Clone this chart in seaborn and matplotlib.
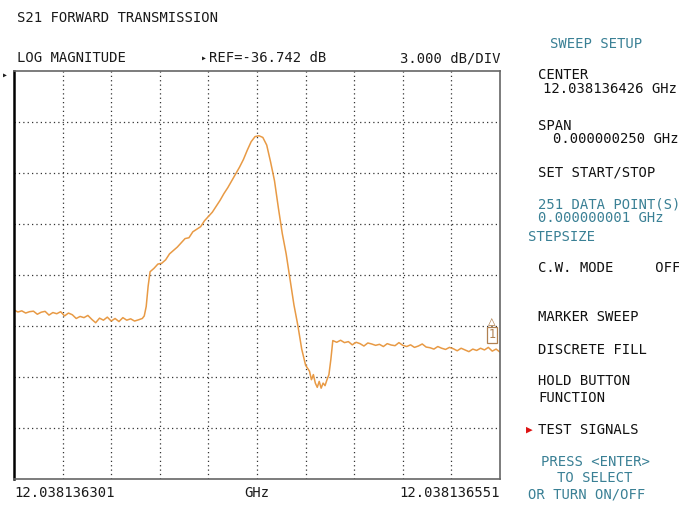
import matplotlib
matplotlib.use("Agg")
import matplotlib.pyplot as plt
import seaborn as sns
import pandas as pd

# ---- data ----
offset_hz = [0, 2, 4, 6, 8, 10, 12, 14, 16, 18, 20, 22, 24, 26, 28, 30, 32, 34, 36, 38,
             40, 42, 44, 46, 48, 50, 52, 54, 56, 58, 60, 62, 64, 66, 67, 68, 69, 70, 72, 74,
             76, 78, 80, 82, 84, 86, 88, 90, 92, 94, 96, 98, 100, 102, 104, 106, 108, 110, 112, 114,
             116, 118, 120, 122, 124, 126, 128, 130, 132, 134, 136, 138, 140, 142, 144, 146, 148, 150, 152, 153,
             154, 155, 156, 157, 158, 159, 160, 161, 162, 163, 164, 166, 168, 170, 172, 174, 176, 178, 180, 182,
             184, 186, 188, 190, 192, 194, 196, 198, 200, 202, 204, 206, 208, 210, 212, 214, 216, 218, 220, 222,
             224, 226, 228, 230, 232, 234, 236, 238, 240, 242, 244, 246, 248, 250]
s21_db = [-50.80, -50.92, -50.85, -50.98, -50.90, -50.87, -51.05, -50.93, -50.88, -51.10,
          -50.95, -51.02, -50.90, -51.15, -50.98, -51.08, -51.30, -51.18, -51.25, -51.12,
          -51.35, -51.55, -51.28, -51.40, -51.22, -51.45, -51.30, -51.48, -51.25, -51.40,
          -51.32, -51.45, -51.38, -51.30, -51.15, -50.60, -49.40, -48.55, -48.35, -48.10,
          -48.05, -47.85, -47.50, -47.30, -47.10, -46.85, -46.60, -46.55, -46.20, -46.05,
          -45.90, -45.55, -45.30, -45.05, -44.70, -44.35, -43.95, -43.60, -43.20, -42.80,
          -42.40, -41.95, -41.40, -40.90, -40.60, -40.55, -40.65, -41.10, -42.10, -43.20,
          -44.80, -46.30, -47.50, -49.00, -50.50, -51.70, -53.10, -54.05, -54.40, -54.90,
          -54.60, -55.10, -55.35, -55.00, -55.40, -55.10, -55.25, -54.90, -54.60, -53.70,
          -52.60, -52.70, -52.58, -52.72, -52.66, -52.85, -52.70, -52.78, -52.92, -52.74,
          -52.80, -52.88, -52.82, -52.95, -52.78, -52.86, -52.90, -52.72, -52.88, -52.95,
          -52.85, -53.00, -52.92, -52.80, -52.98, -53.02, -53.10, -52.95, -53.05, -53.12,
          -53.00, -53.08, -53.20, -53.05, -53.15, -53.25, -53.10, -53.18, -53.05, -53.15,
          -53.00, -53.22, -53.10, -53.28]

start_label = "12.038136301"
stop_label = "12.038136551"
ref_db = -36.742
db_per_div = 3.0
n_ydiv = 8
n_xdiv = 10
span_hz = 250

menu_items = [
    ("SWEEP SETUP", 550, 44, "teal"),
    ("CENTER", 538, 75, "k"),
    ("12.038136426 GHz", 543, 89, "k"),
    ("SPAN", 538, 126, "k"),
    ("0.000000250 GHz", 553, 139, "k"),
    ("SET START/STOP", 538, 172, "k"),
    ("251 DATA POINT(S)", 538, 205, "teal"),
    ("0.000000001 GHz", 538, 218, "teal"),
    ("STEPSIZE", 528, 237, "teal"),
    ("C.W. MODE     OFF", 538, 268, "k"),
    ("MARKER SWEEP", 538, 317, "k"),
    ("DISCRETE FILL", 538, 350, "k"),
    ("HOLD BUTTON", 538, 381, "k"),
    ("FUNCTION", 538, 398, "k"),
    ("TEST SIGNALS", 538, 430, "k"),
    ("PRESS <ENTER>", 541, 462, "teal"),
    ("TO SELECT", 557, 478, "teal"),
    ("OR TURN ON/OFF", 528, 494, "teal"),
]

# ---- figure ----
sns.set_theme(style="white")
plt.rcParams['font.family'] = ['DejaVu Sans Mono', 'DejaVu Sans']
W, H = 679, 505
fig = plt.figure(figsize=(W / 100, H / 100), dpi=100)
L, R, T, B = 14, 500, 71, 479
ax = fig.add_axes([L / W, 1 - B / H, (R - L) / W, (B - T) / H])

df = pd.DataFrame({"offset": offset_hz, "db": s21_db})
sns.lineplot(data=df, x="offset", y="db", ax=ax, color="#e89a45", linewidth=1.1)

ymax = ref_db
ymin = ref_db - n_ydiv * db_per_div
ax.set_xlim(0, span_hz)
ax.set_ylim(ymin, ymax)
ax.set_xticks([span_hz / n_xdiv * i for i in range(1, n_xdiv)])
ax.set_yticks([ymin + db_per_div * i for i in range(1, n_ydiv)])
ax.set_xticklabels([])
ax.set_yticklabels([])
ax.tick_params(length=0)
ax.grid(True, linestyle=(0, (1, 2.5)), color="#333333", linewidth=0.9)
ax.set_xlabel("")
ax.set_ylabel("")
for side in ["top", "right", "bottom"]:
    ax.spines[side].set_color("#666666")
    ax.spines[side].set_linewidth(1.2)
ax.spines["left"].set_color("black")
ax.spines["left"].set_linewidth(1.8)

fs = 10
teal = "#3a8095"


def ftext(x, y, s, color="k", ha="left", size=fs):
    fig.text(x / W, 1 - y / H, s, color=color, ha=ha, va="center", fontsize=size)


ftext(17, 18, "S21 FORWARD TRANSMISSION")
ftext(17, 58, "LOG MAGNITUDE")
ftext(209, 58, f"REF=-{abs(ref_db):.3f} dB")
ftext(500, 58, f"{db_per_div:.3f} dB/DIV", ha="right")
ftext(14, 493, start_label)
ftext(257, 493, "GHz", ha="center")
ftext(500, 493, stop_label, ha="right")

# small arrows
fig.text(201 / W, 1 - 58 / H, "\u25B8", color="k", ha="left", va="center", fontsize=7)
fig.text(2 / W, 1 - 75 / H, "\u25B8", color="k", ha="left", va="center", fontsize=7)
fig.text(526 / W, 1 - 430 / H, "\u25B6", color="#dd1111", ha="left", va="center", fontsize=8)

for s, x, y, c in menu_items:
    ftext(x, y, s, color=teal if c == "teal" else "#111111")

# marker 1 at right end
fig.text(492 / W, 1 - 321 / H, "\u25B3", color="#b08050", ha="center", va="center", fontsize=9)
fig.text(492 / W, 1 - 335 / H, "1", color="#b08050", ha="center", va="center", fontsize=8.5,
         bbox=dict(boxstyle="square,pad=0.15", fc="white", ec="#b08050", lw=0.9))

fig.savefig("out.png", dpi=100)
